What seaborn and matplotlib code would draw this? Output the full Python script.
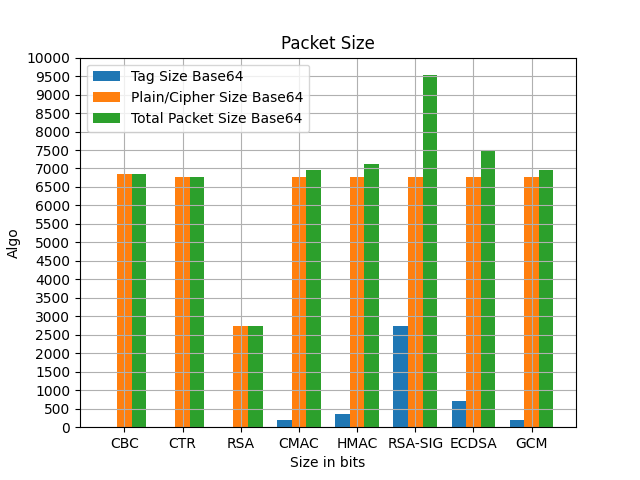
import pandas as pd
import matplotlib.pyplot as plt
import seaborn as sns

# values
algos = ["CBC", "CTR", "RSA", "CMAC", "HMAC", "RSA-SIG", "ECDSA", "GCM"]
tag_size = [0, 0, 0, 192, 352, 2744, 704, 192]
plain_size = [6856, 6780, 2744, 6780, 6780, 6780, 6780, 6780]
total_size = [6856, 6780, 2744, 6972, 7132, 9540, 7484, 6972]

series = ["Tag Size Base64", "Plain/Cipher Size Base64", "Total Packet Size Base64"]

rows = []
for name, vals in zip(series, [tag_size, plain_size, total_size]):
    for a, v in zip(algos, vals):
        rows.append({"algo": a, "size": v, "kind": name})
df = pd.DataFrame(rows)

fig, ax = plt.subplots(figsize=(6.4, 4.8), dpi=100)
sns.barplot(data=df, x="algo", y="size", hue="kind", order=algos,
            hue_order=series, palette=["#1f77b4", "#ff7f0e", "#2ca02c"],
            width=0.75, gap=0, errorbar=None, saturation=1, ax=ax)

ax.set_xlim(-0.7625, 7.7625)
ax.set_ylim(0, 10000)
ax.set_yticks(range(0, 10001, 500))
ax.grid(True)
ax.set_title("Packet Size")
ax.set_xlabel("Size in bits")
ax.set_ylabel("Algo")
sns.move_legend(ax, "upper left", title=None)

plt.savefig("out.png")
